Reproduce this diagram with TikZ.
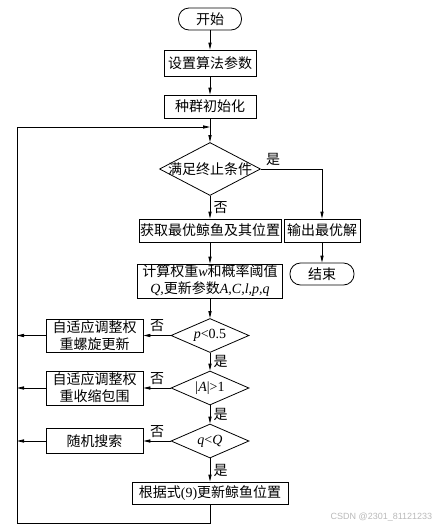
\documentclass[tikz,border=0pt]{standalone}
\usepackage{fontspec}
\setmainfont{Liberation Serif}
\newfontfamily\cjk{Noto Sans CJK SC}
\newfontfamily\wmfont{Liberation Sans}
\usetikzlibrary{shapes.geometric,arrows.meta}
\newcommand\vi[1]{{\rmfamily\itshape #1}}
\newcommand\en[1]{{\rmfamily #1}}
\newcommand\dtext[1]{\makebox[0pt]{#1}}

\begin{document}
\begin{tikzpicture}[x=1pt,y=-1pt,
    font=\cjk\fontsize{14}{17}\selectfont,
    line width=.8pt,
    procbox/.style={draw, rectangle, inner sep=1pt, align=center},
    terminal/.style={draw, rectangle, rounded corners=10.5pt, minimum width=63pt, minimum height=22pt, inner sep=1pt},
    decision/.style={draw, diamond, inner sep=0pt, minimum width=78pt, minimum height=34pt},
    arr/.style={-{Triangle[length=7pt,width=3.2pt]}}]
  \useasboundingbox (0,0) rectangle (438,528);

  % main column
  \node[terminal] (start) at (210,19) {开始};
  \node[procbox, minimum width=92pt, minimum height=26pt] (param) at (210,63) {设置算法参数};
  \node[procbox, minimum width=92pt, minimum height=23pt] (init) at (210,106.5) {种群初始化};
  \node[decision, minimum width=101pt, minimum height=53pt] (stop) at (210,169) {\dtext{满足终止条件}};
  \node[procbox, minimum width=136pt, minimum height=23pt] (best) at (210,230.5) {获取最优鲸鱼及其位置};
  \node[procbox, minimum width=145pt, minimum height=34pt] (calc) at (210,281)
    {计算权重\vi{w}和概率阈值\\\vi{Q,}更新参数\vi{A,C,l,p,q}};
  \node[decision] (pcheck) at (210,335.5) {\dtext{\vi{p}\en{<0.5}}};
  \node[decision] (acheck) at (210,388) {\dtext{\en{|}\vi{A}\en{|>1}}};
  \node[decision] (qcheck) at (210,441) {\dtext{\vi{q}\en{<}\vi{Q}}};
  \node[procbox, minimum width=156pt, minimum height=22pt] (update) at (210,493) {根据式\en{(9)}更新鲸鱼位置};

  % right column
  \node[procbox, minimum width=76pt, minimum height=23pt] (out) at (322,230.5) {输出最优解};
  \node[terminal, minimum width=64pt] (end) at (322,274) {结束};

  % left column
  \node[procbox, minimum width=97pt, minimum height=33pt] (spiral) at (94.5,335.5) {自适应调整权\\重螺旋更新};
  \node[procbox, minimum width=97pt, minimum height=34pt] (shrink) at (94.5,388) {自适应调整权\\重收缩包围};
  \node[procbox, minimum width=97pt, minimum height=25pt] (search) at (94.5,441) {随机搜索};

  % loop corners
  \coordinate (join) at (210,127);
  \coordinate (loopbot) at (17,523);
  \coordinate (looptop) at (17,127);

  \draw[arr] (start) -- (param);
  \draw[arr] (param) -- (init);
  \draw[arr] (init) -- (stop);
  \draw[arr] (stop) -| node[pos=.1, above] {是} (out);
  \draw[arr] (stop) -- node[right] {否} (best);
  \draw[arr] (out) -- (end);
  \draw[arr] (best) -- (calc);
  \draw[arr] (calc) -- (pcheck);
  \draw[arr] (pcheck) -- node[right] {是} (acheck);
  \draw[arr] (acheck) -- node[right] {是} (qcheck);
  \draw[arr] (qcheck) -- node[right] {是} (update);

  \draw[arr] (pcheck) -- node[above] {否} (spiral);
  \draw[arr] (acheck) -- node[above] {否} (shrink);
  \draw[arr] (qcheck) -- node[above] {否} (search);
  \draw[arr] (spiral) -- (spiral -| looptop);
  \draw[arr] (shrink) -- (shrink -| looptop);
  \draw[arr] (search) -- (search -| looptop);

  \draw[arr] (update) |- (loopbot) -- (looptop) -- (join);

  \node[font=\wmfont\fontsize{9}{10}\selectfont, text=gray!55, anchor=east] (mark) at (436,517) {CSDN @2301\_81121233};
\end{tikzpicture}
\end{document}
